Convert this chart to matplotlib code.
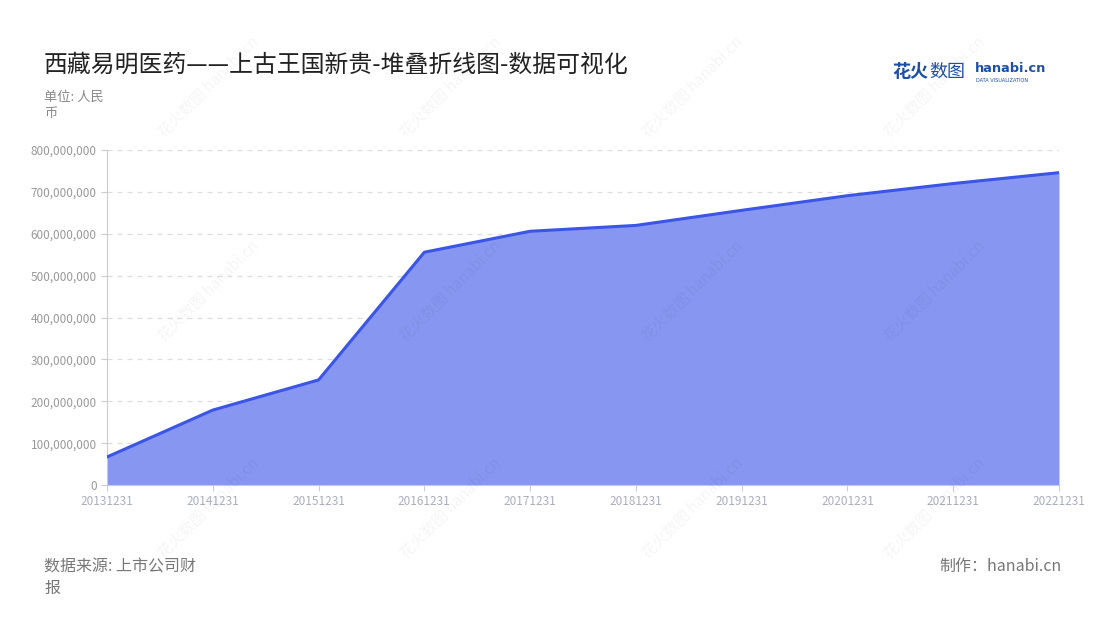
import matplotlib
matplotlib.use('Agg')
import matplotlib.pyplot as plt
from matplotlib.ticker import FuncFormatter

plt.rcParams['font.family'] = ['Noto Sans CJK SC', 'DejaVu Sans']

# data
dates = ['20131231', '20141231', '20151231', '20161231', '20171231',
         '20181231', '20191231', '20201231', '20211231', '20221231']
values = [67e6, 179e6, 251e6, 556e6, 606e6, 620e6, 656e6, 691e6, 720e6, 746e6]
y_ticks = [0, 100e6, 200e6, 300e6, 400e6, 500e6, 600e6, 700e6, 800e6]

line_color = '#3b55e6'
fill_color = '#8696f1'
grey = '#999999'

fig = plt.figure(figsize=(11, 6.2), dpi=100)
ax = fig.add_axes([0.0973, 0.2177, 0.8654, 0.5403])

x = list(range(len(dates)))
ax.fill_between(x, values, 0, color=fill_color, linewidth=0, zorder=2)
ax.plot(x, values, color=line_color, linewidth=2.2, zorder=3)

ax.set_xlim(0, len(dates) - 1)
ax.set_ylim(0, 800e6)
ax.set_xticks(x)
ax.set_xticklabels(dates)
ax.set_yticks(y_ticks)
ax.yaxis.set_major_formatter(FuncFormatter(lambda v, p: f'{int(v):,}'))
ax.tick_params(axis='both', labelsize=8.5, colors='#cccccc', length=4)
for lbl in ax.get_yticklabels():
    lbl.set_color(grey)
for lbl in ax.get_xticklabels():
    lbl.set_color('#a9aec0')

ax.grid(axis='y', linestyle=(0, (4, 4)), color='#dddddd', linewidth=0.9, zorder=1)
for s in ['top', 'right']:
    ax.spines[s].set_visible(False)
ax.spines['left'].set_color('#cccccc')
ax.spines['bottom'].set_color('#cccccc')

# faint watermarks
for wx in [0.19, 0.41, 0.63, 0.85]:
    for wy in [0.86, 0.53, 0.18]:
        fig.text(wx, wy, '花火数图 hanabi.cn', rotation=45, fontsize=11,
                 color='#000000', alpha=0.045, ha='center', va='center', zorder=0)

# texts
fig.text(0.04, 0.895, '西藏易明医药——上古王国新贵-堆叠折线图-数据可视化', fontsize=17.2,
         color='#222222', va='center')
fig.text(0.04, 0.830, '单位: 人民\n币', fontsize=9.5, color='#888888', va='center',
         linespacing=1.3)
fig.text(0.04, 0.068, '数据来源: 上市公司财\n报', fontsize=11.5, color='#777777',
         va='center', linespacing=1.3)
fig.text(0.965, 0.086, '制作：hanabi.cn', fontsize=11.5, color='#777777',
         ha='right', va='center')

# logo
fig.text(0.811, 0.884, '花火', fontsize=13, color='#1d4fa8', fontweight='bold',
         va='center')
fig.text(0.845, 0.884, '数图', fontsize=13, color='#1d4fa8', va='center')
fig.text(0.886, 0.890, 'hanabi.cn', fontsize=9.3, color='#1d4fa8',
         fontweight='bold', va='center', family=['DejaVu Sans'])
fig.text(0.887, 0.870, 'DATA VISUALIZATION', fontsize=3.6, color='#1d4fa8',
         va='center', family=['DejaVu Sans'])

fig.savefig('out.png', dpi=100)
